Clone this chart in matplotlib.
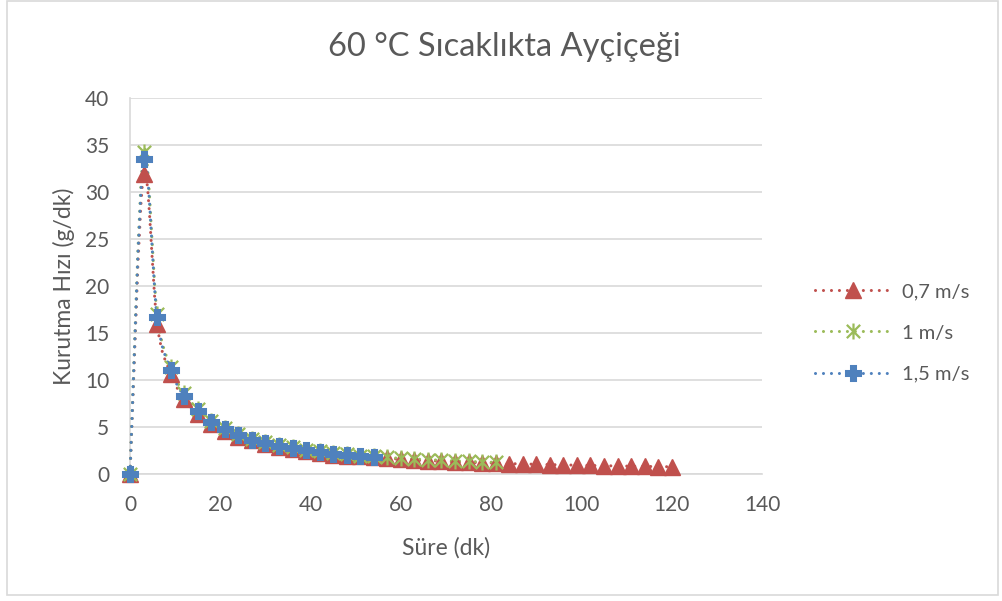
import matplotlib.pyplot as plt
import numpy as np
from matplotlib.path import Path
from matplotlib.patches import PathPatch, Rectangle
from matplotlib.lines import Line2D

plt.rcParams['font.family'] = ['Lato', 'DejaVu Sans']

# veriler (dk, g/dk)
t_07 = list(range(0, 121, 3))
v_07 = [0, 32.0, 16.0, 10.7, 8.0, 6.4, 5.3, 4.6, 4.0, 3.6, 3.2, 2.9, 2.7, 2.5, 2.3,
        2.1, 2.0, 1.9, 1.8, 1.7, 1.6, 1.5, 1.45, 1.4, 1.33, 1.28, 1.23, 1.19, 1.14,
        1.1, 1.07, 1.03, 1.0, 0.97, 0.94, 0.91, 0.89, 0.86, 0.84, 0.82, 0.8]
t_1 = list(range(0, 82, 3))
v_1 = [0, 34.3, 17.1, 11.4, 8.6, 6.9, 5.7, 4.9, 4.3, 3.8, 3.4, 3.1, 2.9, 2.6,
       2.45, 2.3, 2.15, 2.0, 1.9, 1.8, 1.7, 1.63, 1.56, 1.5, 1.43, 1.37, 1.32, 1.27]
t_15 = list(range(0, 55, 3))
v_15 = [0, 33.5, 16.7, 11.1, 8.3, 6.7, 5.6, 4.8, 4.2, 3.7, 3.3, 3.0, 2.8, 2.6,
        2.4, 2.2, 2.1, 2.0, 1.85]

labels = ['0,7 m/s', '1 m/s', '1,5 m/s']
colors = ['#C0504D', '#9BBB59', '#4F81BD']
txt = '#595959'
grid = '#D9D9D9'
dots = (0, (0.01, 2.6))

# excel yildiz isareti
star = Path([(-1, -1), (1, 1), (-1, 1), (1, -1), (0, -1.2), (0, 1.2)],
            [Path.MOVETO, Path.LINETO, Path.MOVETO, Path.LINETO, Path.MOVETO, Path.LINETO])
markers = [dict(marker='^', markersize=11),
           dict(marker=star, markersize=11.5, markeredgewidth=1.6, markerfacecolor='none'),
           dict(marker='P', markersize=10, markeredgewidth=2.2)]


def smooth_path(x, y):
    # excel benzeri yumusak cizgi (catmull-rom -> bezier)
    p = np.column_stack([x, y]).astype(float)
    verts = [p[0]]
    codes = [Path.MOVETO]
    n = len(p)
    for i in range(n - 1):
        p0 = p[i - 1] if i > 0 else p[i]
        p3 = p[i + 2] if i + 2 < n else p[i + 1]
        c1 = p[i] + (p[i + 1] - p0) / 6
        c2 = p[i + 1] - (p3 - p[i]) / 6
        verts += [c1, c2, p[i + 1]]
        codes += [Path.CURVE4] * 3
    return Path(verts, codes)


fig = plt.figure(figsize=(10.02, 6.01), dpi=100)
fig.patches.append(Rectangle((7 / 1002, 6 / 601), 991 / 1002, 594 / 601, transform=fig.transFigure,
                             fill=False, edgecolor=grid, linewidth=1.2))
ax = fig.add_axes([130 / 1002, 1 - 474.3 / 601, 632 / 1002, 376 / 601])

handles = []
for (t, v), c, lab, m in zip([(t_07, v_07), (t_1, v_1), (t_15, v_15)], colors, labels, markers):
    pp = PathPatch(smooth_path(t, v), fill=False, edgecolor=c, linewidth=2.2,
                   linestyle=dots, capstyle='round', zorder=3, clip_on=False)
    ax.add_patch(pp)
    ax.plot(t, v, linestyle='none', color=c, zorder=4, clip_on=False, **m)
    handles.append(Line2D([], [], color=c, linewidth=2.2, linestyle=dots,
                          dash_capstyle='round', **m))

ax.set_xlim(0, 140)
ax.set_ylim(0, 40)
ax.set_xticks(range(0, 141, 20))
ax.set_yticks(range(0, 41, 5))
ax.grid(axis='y', color=grid, linewidth=1.2)
ax.set_axisbelow(True)
for s in ['top', 'right']:
    ax.spines[s].set_visible(False)
for s in ['left', 'bottom']:
    ax.spines[s].set_color(grid)
    ax.spines[s].set_linewidth(1.2)
ax.tick_params(length=0, pad=15, labelsize=15, labelcolor=txt)

ax.set_xlabel('Süre (dk)', fontsize=16.5, color=txt, labelpad=16)
ax.set_ylabel('Kurutma Hızı (g/dk)', fontsize=16.5, color=txt, labelpad=7)
fig.text(504 / 1002, 1 - 47 / 601, '60 °C Sıcaklıkta Ayçiçeği', ha='center', va='center',
         fontsize=23.5, color=txt)

fig.legend(handles, labels, loc='center left', bbox_to_anchor=(797 / 1002, 1 - 333 / 601),
           frameon=False, fontsize=14.5, labelcolor=txt, handlelength=3.8, numpoints=1,
           labelspacing=1.2, handletextpad=0.5)

plt.savefig('out.png', dpi=100)
